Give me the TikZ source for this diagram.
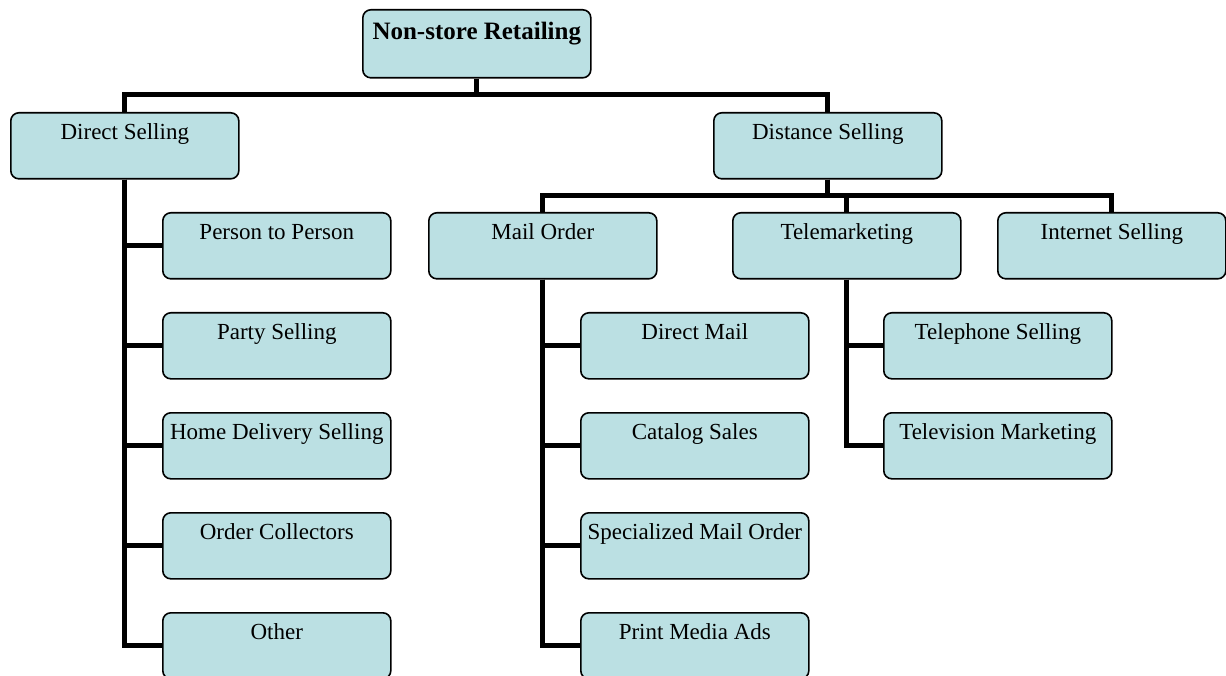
\documentclass[tikz,border=0pt]{standalone}
\usepackage{fontspec}
\setmainfont{Liberation Serif}
\usetikzlibrary{positioning}
\definecolor{isikotak}{HTML}{BBE0E3}

\begin{document}
\begin{tikzpicture}[
        x=1pt, y=-1pt,
        node distance=32.4pt,
        kotak/.style={draw, line width=1.6pt, rounded corners=8pt, fill=isikotak, inner sep=0pt,
            minimum width=228pt, text height=27pt, text depth=39pt, font=\fontsize{23}{27}\selectfont},
        garis/.style={line width=5pt}
    ]
        \useasboundingbox (0,0) rectangle (1226,676);
        \node[kotak, anchor=north west, text height=30pt, text depth=38pt,
            font=\fontsize{25}{29}\selectfont\bfseries] (akar) at (362,9) {Non-store Retailing};
        \node[kotak, anchor=north west] (dir) at (10,112) {Direct Selling};
        \node[kotak, anchor=north west] (dis) at (713,112) {Distance Selling};
        % direct selling
        \node[kotak, anchor=north west] (d1) at (162,212) {Person to Person};
        \node[kotak, below=of d1] (d2) {Party Selling};
        \node[kotak, below=of d2] (d3) {Home Delivery Selling};
        \node[kotak, below=of d3] (d4) {Order Collectors};
        \node[kotak, below=of d4] (d5) {Other};
        % distance selling
        \node[kotak, anchor=north west] (mo) at (428,212) {Mail Order};
        \node[kotak, anchor=north west] (tm) at (732,212) {Telemarketing};
        \node[kotak, anchor=north west] (is) at (997,212) {Internet Selling};
        \node[kotak, anchor=north west] (m1) at (580,312) {Direct Mail};
        \node[kotak, below=of m1] (m2) {Catalog Sales};
        \node[kotak, below=of m2] (m3) {Specialized Mail Order};
        \node[kotak, below=of m3] (m4) {Print Media Ads};
        \node[kotak, anchor=north west] (t1) at (883,312) {Telephone Selling};
        \node[kotak, below=of t1] (t2) {Television Marketing};
        % connectors
        \draw[garis] (akar.south) -- ++(0,16) -| (dir.north);
        \draw[garis] (akar.south) -- ++(0,16) -| (dis.north);
        \draw[garis] (dis.south) -- ++(0,16) -| (mo.north);
        \draw[garis] (dis.south) -- ++(0,16) -| (tm.north);
        \draw[garis] (dis.south) -- ++(0,16) -| (is.north);
        \foreach \k in {d1,d2,d3,d4,d5}
            \draw[garis] (dir.south) |- (\k.west);
        \foreach \k in {m1,m2,m3,m4}
            \draw[garis] (mo.south) |- (\k.west);
        \foreach \k in {t1,t2}
            \draw[garis] (tm.south) |- (\k.west);
    \end{tikzpicture}
\end{document}
